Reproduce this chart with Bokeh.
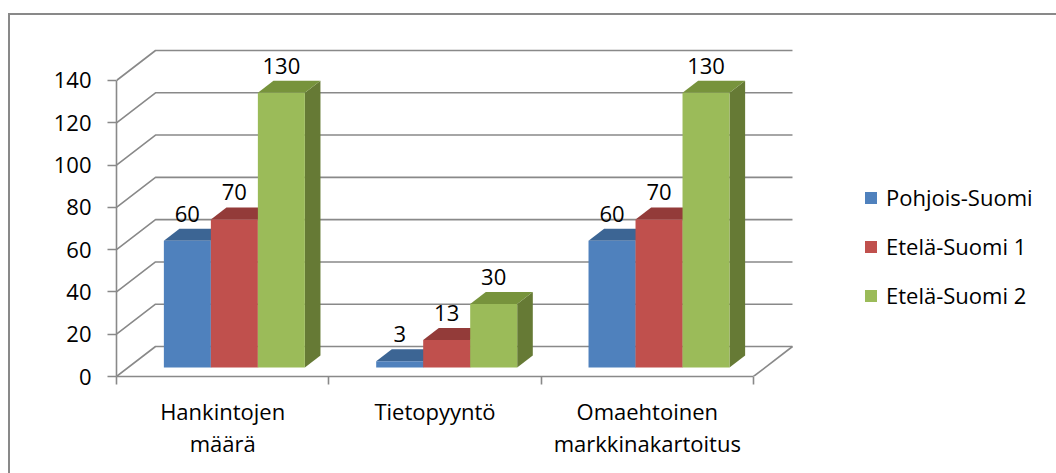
from bokeh.plotting import figure
from bokeh.models import Range1d, FixedTicker, Legend, LegendItem
from bokeh.core.properties import value
from bokeh.embed import file_html
from bokeh.resources import INLINE

# ---------------- data ----------------
categories = ["Hankintojen\nmäärä", "Tietopyyntö", "Omaehtoinen\nmarkkinakartoitus"]
series_names = ["Pohjois-Suomi", "Etelä-Suomi 1", "Etelä-Suomi 2"]
pohjois = [60, 3, 60]
etela1 = [70, 13, 70]
etela2 = [130, 30, 130]
y_ticks = [0, 20, 40, 60, 80, 100, 120, 140]

# ---------------- style ----------------
FONT = "Open Sans"
FS = "22px"
GRID = "#898989"
front_cols = ["#4F81BD", "#C0504D", "#9BBB59"]
top_cols = ["#3C6594", "#933B39", "#77933C"]
side_cols = ["#385D8A", "#8C3836", "#667A35"]

W, H = 1056, 473
ML, MB = 116, 97
PX_CAT = 212.33          # pixels per category
PX_VAL = 2.1143          # pixels per value unit
frame_w = W - ML
frame_h = H - MB
DX = 39 / PX_CAT         # full depth offset in data units
DY = 30 / PX_VAL
BAR_W = 47 / PX_CAT
D0, D1 = 0.3, 0.7        # bar depth span (fraction of wall depth)

def proj(x, y, d):
    return x + d * DX, y + d * DY

border_css = {
    "background-image": "linear-gradient(#898989, #898989), linear-gradient(#898989, #898989)",
    "background-size": "2px 100%, 100% 2px",
    "background-position": "8px 13px, 8px 13px",
    "background-repeat": "no-repeat",
    "background-color": "white",
}

p = figure(width=W, height=H, output_backend="svg", toolbar_location=None,
           x_range=Range1d(0, frame_w / PX_CAT), y_range=Range1d(0, frame_h / PX_VAL),
           min_border_left=ML, min_border_right=0, min_border_top=0, min_border_bottom=MB,
           styles=border_css)
p.outline_line_color = None
p.grid.visible = False
p.background_fill_color = None
p.border_fill_color = None

ncat = len(categories)

# back wall gridlines and left wall diagonals
for v in y_ticks:
    bx0, by = proj(0, v, 1)
    bx1, _ = proj(ncat, v, 1)
    p.line([0, bx0, bx1], [v, by, by], line_color=GRID, line_width=1.6)
# floor right edge
fx, fy = proj(ncat, 0, 1)
p.line([ncat, fx], [0, fy], line_color=GRID, line_width=1.6)

# bars
all_vals = [pohjois, etela1, etela2]
front_renderers = [None, None, None]
for c in range(ncat):
    for s, vals in enumerate(all_vals):
        v = vals[c]
        x0 = c + 0.5 - 1.5 * BAR_W + s * BAR_W
        x1 = x0 + BAR_W
        # side
        pts = [proj(x1, 0, D0), proj(x1, 0, D1), proj(x1, v, D1), proj(x1, v, D0)]
        p.patch([q[0] for q in pts], [q[1] for q in pts], fill_color=side_cols[s], line_color=None)
        # top
        pts = [proj(x0, v, D0), proj(x1, v, D0), proj(x1, v, D1), proj(x0, v, D1)]
        p.patch([q[0] for q in pts], [q[1] for q in pts], fill_color=top_cols[s], line_color=None)
        # front
        pts = [proj(x0, 0, D0), proj(x1, 0, D0), proj(x1, v, D0), proj(x0, v, D0)]
        r = p.patch([q[0] for q in pts], [q[1] for q in pts], fill_color=front_cols[s], line_color=None)
        if front_renderers[s] is None:
            front_renderers[s] = r
        # value label
        lx, ly = proj((x0 + x1) / 2, v, D0)
        p.text([lx], [ly], text=[str(v)], text_font=value(FONT), text_font_size=FS,
               text_color="black", text_align="center", text_baseline="middle", y_offset=-27)

# axes
ya = p.yaxis[0]
ya.ticker = FixedTicker(ticks=y_ticks)
ya.bounds = (0, 140)
ya.axis_line_color = GRID
ya.axis_line_width = 1.6
ya.major_tick_line_color = GRID
ya.major_tick_line_width = 1.6
ya.major_tick_in = 0
ya.major_tick_out = 9
ya.minor_tick_line_color = None
ya.major_label_standoff = 16
ya.major_label_text_font = FONT
ya.major_label_text_font_size = FS
ya.major_label_text_color = "black"

xa = p.xaxis[0]
xa.ticker = FixedTicker(ticks=[c + 0.5 for c in range(ncat)], minor_ticks=list(range(ncat + 1)))
xa.bounds = (0, ncat)
xa.major_label_overrides = {c + 0.5: categories[c] for c in range(ncat)}
xa.axis_line_color = GRID
xa.axis_line_width = 1.6
xa.major_tick_line_color = None
xa.minor_tick_line_color = GRID
xa.minor_tick_line_width = 1.6
xa.minor_tick_in = 0
xa.minor_tick_out = 8
xa.major_label_standoff = 11
xa.major_label_text_font = FONT
xa.major_label_text_font_size = FS
xa.major_label_text_color = "black"
xa.major_label_text_line_height = 1.07

# legend
legend = Legend(items=[LegendItem(label=series_names[i], renderers=[front_renderers[i]]) for i in range(3)],
                location=(747, 66), orientation="vertical",
                glyph_width=15, glyph_height=15, label_standoff=8, spacing=19,
                padding=0, margin=0, border_line_color=None, background_fill_alpha=0,
                label_text_font=FONT, label_text_font_size=FS, label_text_color="black")
p.add_layout(legend, "center")

open("out.html", "w").write(file_html(p, INLINE))
